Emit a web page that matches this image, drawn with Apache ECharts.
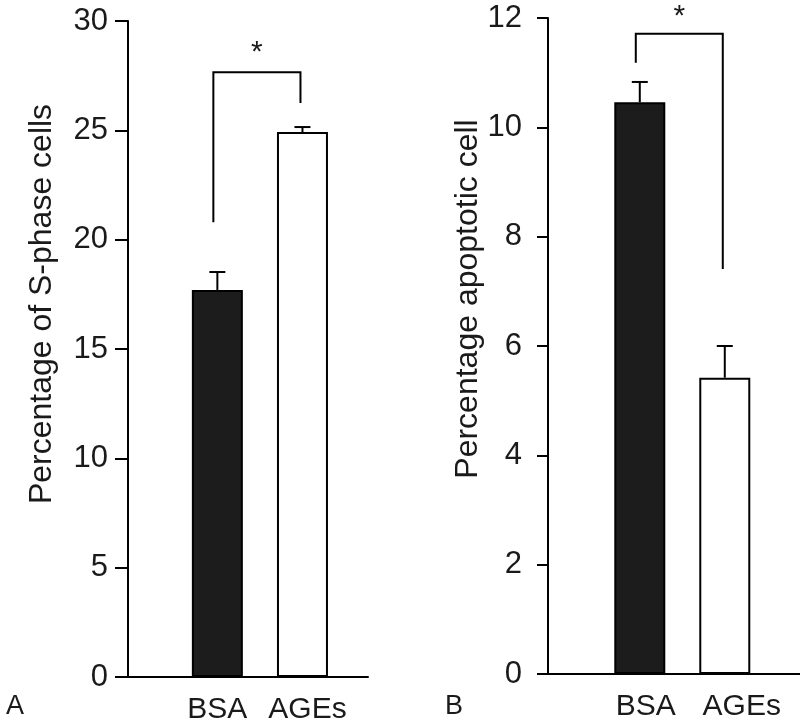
<!DOCTYPE html>
<html lang="en">
<head>
    <meta charset="UTF-8">
    <title>BSA vs AGEs</title>
    <script src="https://cdn.jsdelivr.net/npm/echarts@6/dist/echarts.min.js"></script>
    <style>
        html, body { margin: 0; padding: 0; background: #fff; }
        #main { width: 800px; height: 725px; }
    </style>
</head>
<body>
<div id="main"></div>
<script type="text/javascript">
    // panel A: S-phase cells
    var categories = ['BSA', 'AGEs'];
    var meanA = [17.7, 24.92];
    var errTopA = [18.52, 25.15];
    var bracketA = [20.8, 27.66, 26.25];   // left leg bottom, top, right leg bottom
    var starA = 28.7;
    var ticksA = [0, 30, 5];               // min, max, step

    // panel B: apoptotic cells
    var meanB = [10.46, 5.42];
    var errTopB = [10.83, 6.0];
    var bracketB = [11.18, 11.71, 7.41];
    var starB = 12.08;
    var ticksB = [0, 12, 2];

    var FONT = 'Liberation Sans, Arial, sans-serif';
    var INK = '#1a1a1a';

    var chartDom = document.getElementById('main');
    var myChart = echarts.init(chartDom);

    // bar data on a numeric x axis: category i sits at x = i + 1
    function barData(means) {
        return means.map(function (v, i) {
            return {
                value: [i + 1, v],
                itemStyle: {
                    color: i === 0 ? '#1c1c1c' : '#ffffff',
                    borderColor: '#000',
                    borderWidth: 2
                }
            };
        });
    }

    function errData(means, tops) {
        return means.map(function (v, i) { return [i + 1, v, tops[i]]; });
    }

    function renderErr(params, api) {
        var p0 = api.coord([api.value(0), api.value(1)]);
        var p1 = api.coord([api.value(0), api.value(2)]);
        var st = { stroke: '#000', lineWidth: 2 };
        return {
            type: 'group',
            children: [
                { type: 'line', shape: { x1: p0[0], y1: p0[1], x2: p1[0], y2: p1[1] }, style: st },
                { type: 'line', shape: { x1: p1[0] - 8, y1: p1[1], x2: p1[0] + 8, y2: p1[1] }, style: st }
            ]
        };
    }

    function renderBracket(params, api) {
        var a = api.coord([1, api.value(0)]);
        var b = api.coord([1, api.value(1)]);
        var c = api.coord([2, api.value(1)]);
        var d = api.coord([2, api.value(2)]);
        var s = api.coord([1.5, api.value(3)]);
        return {
            type: 'group',
            children: [
                {
                    type: 'polyline',
                    shape: { points: [[a[0] - 4, a[1]], [b[0] - 4, b[1]], [c[0] - 2, c[1]], [d[0] - 2, d[1]]] },
                    style: { stroke: '#000', lineWidth: 2, fill: null }
                },
                {
                    type: 'text',
                    x: s[0] - 3, y: s[1] + 3,
                    style: { text: '*', fontSize: 30, fontFamily: FONT, fill: INK, align: 'center', verticalAlign: 'middle' }
                }
            ]
        };
    }

    // the source figure sets its group names a little right of the bars
    function xAxisFor(grid, min, max, padBSA, padAGEs) {
        return {
            type: 'value', gridIndex: grid, min: min, max: max,
            axisLine: { show: true, onZero: false, lineStyle: { color: '#000', width: 2 } },
            axisTick: { show: false },
            splitLine: { show: false },
            axisLabel: {
                customValues: [1, 2],
                formatter: function (v) {
                    var i = Math.round(v) - 1;
                    return '{c' + i + '|' + categories[i] + '}';
                },
                margin: 18,
                rich: {
                    c0: { fontSize: 30, fontFamily: FONT, color: INK, padding: [0, 0, 0, padBSA] },
                    c1: { fontSize: 30, fontFamily: FONT, color: INK, padding: [0, 0, 0, padAGEs] }
                }
            }
        };
    }

    function yAxisFor(grid, t, margin, tickLen) {
        return {
            type: 'value', gridIndex: grid, min: t[0], max: t[1], interval: t[2],
            axisLine: { show: true, onZero: false, lineStyle: { color: '#000', width: 2 } },
            axisTick: { show: true, length: tickLen, lineStyle: { color: '#000', width: 2 } },
            splitLine: { show: false },
            axisLabel: { fontSize: 31, fontFamily: FONT, color: INK, margin: margin }
        };
    }

    var option = {
        animation: false,
        backgroundColor: '#fff',
        grid: [
            { left: 128, right: 432, top: 21, bottom: 48 },
            { left: 548, right: 0, top: 18, bottom: 51 }
        ],
        xAxis: [xAxisFor(0, -0.05, 2.77, 0, 10), xAxisFor(1, -0.08, 2.885, 12, 34)],
        yAxis: [yAxisFor(0, ticksA, 20, 13), yAxisFor(1, ticksB, 26, 11)],
        graphic: [
            {
                type: 'text', x: 42, y: 304, rotation: Math.PI / 2,
                style: { text: 'Percentage of S-phase cells', fontSize: 32, fontFamily: FONT, fill: INK, align: 'center', verticalAlign: 'middle' }
            },
            {
                type: 'text', x: 468, y: 299, rotation: Math.PI / 2,
                style: { text: 'Percentage apoptotic cell', fontSize: 32, fontFamily: FONT, fill: INK, align: 'center', verticalAlign: 'middle' }
            },
            {
                type: 'text', x: 15, y: 707,
                style: { text: 'A', fontSize: 27, fontFamily: FONT, fill: INK, align: 'center', verticalAlign: 'middle' }
            },
            {
                type: 'text', x: 454, y: 707,
                style: { text: 'B', fontSize: 27, fontFamily: FONT, fill: INK, align: 'center', verticalAlign: 'middle' }
            }
        ],
        series: [
            { type: 'bar', xAxisIndex: 0, yAxisIndex: 0, barWidth: 51, data: barData(meanA) },
            { type: 'custom', xAxisIndex: 0, yAxisIndex: 0, renderItem: renderErr, data: errData(meanA, errTopA), z: 1 },
            { type: 'custom', xAxisIndex: 0, yAxisIndex: 0, renderItem: renderBracket, data: [bracketA.concat([starA])] },
            { type: 'bar', xAxisIndex: 1, yAxisIndex: 1, barWidth: 51, data: barData(meanB) },
            { type: 'custom', xAxisIndex: 1, yAxisIndex: 1, renderItem: renderErr, data: errData(meanB, errTopB), z: 1 },
            { type: 'custom', xAxisIndex: 1, yAxisIndex: 1, renderItem: renderBracket, data: [bracketB.concat([starB])] }
        ]
    };

    option && myChart.setOption(option);
</script>
</body>
</html>
